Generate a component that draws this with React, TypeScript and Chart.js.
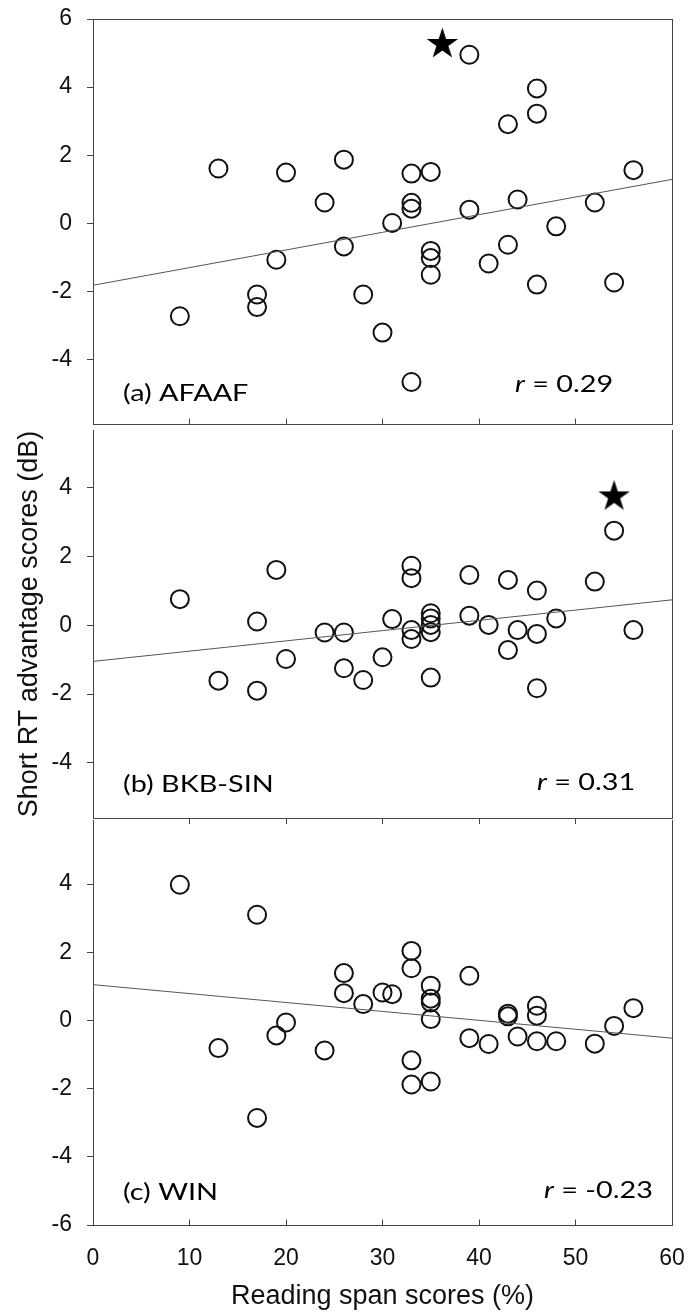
import React, { useEffect, useRef } from 'react';
import { Chart, registerables } from 'chart.js';

Chart.register(...registerables);

// Shared horizontal axis: reading span scores (%)
const X_TICKS = [0, 10, 20, 30, 40, 50, 60];
const INNER_X_TICKS = [10, 20, 30, 40, 50];
const FIT_X = [0, 60];

// (a) AFAAF
const afaafX = [9, 13, 17, 17, 19, 20, 24, 26, 26, 28, 30, 31, 33, 33, 33, 33, 35, 35, 35, 35, 39, 39, 41, 43, 43, 44, 46, 46, 46, 48, 52, 54, 56];
const afaafY = [-2.73, 1.61, -2.09, -2.46, -1.07, 1.49, 0.61, 1.87, -0.68, -2.09, -3.21, 0.01, 1.46, 0.6, 0.43, -4.66, 1.51, -0.81, -1.02, -1.51, 4.95, 0.4, -1.18, 2.91, -0.63, 0.7, 3.96, 3.22, -1.8, -0.09, 0.61, -1.74, 1.56];
const afaafFit = [-1.82, 1.29];
const afaafStar = [36.2, 5.31];
const afaafTicks = [6, 4, 2, 0, -2, -4];

// (b) BKB-SIN
const bkbX = [9, 13, 17, 17, 19, 20, 24, 26, 26, 28, 30, 31, 33, 33, 33, 33, 35, 35, 35, 35, 35, 39, 39, 41, 43, 43, 44, 46, 46, 46, 48, 52, 54, 56];
const bkbY = [0.76, -1.61, 0.11, -1.9, 1.61, -0.98, -0.21, -0.21, -1.25, -1.59, -0.93, 0.18, 1.73, 1.37, -0.14, -0.4, 0.35, 0.2, 0.01, -0.2, -1.52, 1.46, 0.28, 0.01, 1.32, -0.72, -0.14, 1.01, -0.25, -1.83, 0.2, 1.27, 2.75, -0.14];
const bkbFit = [-1.05, 0.74];
const bkbStar = [54.0, 3.79];
const bkbTicks = [4, 2, 0, -2, -4];

// (c) WIN
const winX = [9, 13, 17, 17, 19, 20, 24, 26, 26, 28, 30, 31, 33, 33, 33, 33, 35, 35, 35, 35, 35, 39, 39, 41, 43, 43, 44, 46, 46, 46, 48, 52, 54, 56];
const winY = [3.98, -0.81, 3.1, -2.86, -0.44, -0.06, -0.88, 1.39, 0.8, 0.48, 0.82, 0.77, 2.04, 1.53, -1.17, -1.88, 1.02, 0.64, 0.53, 0.04, -1.79, 1.31, -0.52, -0.69, 0.2, 0.12, -0.47, 0.43, 0.14, -0.61, -0.61, -0.68, -0.16, 0.36];
const winFit = [1.05, -0.52];
const winTicks = [4, 2, 0, -2, -4, -6];

const SANS = 'Arial, "Liberation Sans", sans-serif';
const LABEL_FONT = 'Lato, "Open Sans", sans-serif';
const INK = '#111';
const AXIS = '#444';
const FIT_LINE = '#555';
const STRETCH = 1.2;

type Spec = {
  xs: number[];
  ys: number[];
  fit: number[];
  star?: number[];
  yTicks: number[];
  yMin: number;
  yMax: number;
  top: number;
  height: number;
  padTop: number;
  padBottom: number;
  label: string;
  r: string;
  rLeft: number;
  rDrop: number;
  labelDrop: number;
  frameTop: boolean;
  tickDir: number;
  showX: boolean;
  yTitle: boolean;
};

const panels: Spec[] = [
  {
    xs: afaafX, ys: afaafY, fit: afaafFit, star: afaafStar, yTicks: afaafTicks,
    yMin: -5.894, yMax: 6, top: 0, height: 430, padTop: 19, padBottom: 6,
    label: '(a) AFAAF', r: '0.29', rLeft: 515, rDrop: 32, labelDrop: 23,
    frameTop: true, tickDir: -1, showX: false, yTitle: false,
  },
  {
    xs: bkbX, ys: bkbY, fit: bkbFit, star: bkbStar, yTicks: bkbTicks,
    yMin: -5.602, yMax: 5.677, top: 426, height: 398, padTop: 4, padBottom: 6,
    label: '(b) BKB-SIN', r: '0.31', rLeft: 537, rDrop: 28, labelDrop: 26,
    frameTop: false, tickDir: 1, showX: false, yTitle: true,
  },
  {
    xs: winX, ys: winY, fit: winFit, yTicks: winTicks,
    yMin: -6, yMax: 5.88, top: 818, height: 496, padTop: 2, padBottom: 0,
    label: '(c) WIN', r: '-0.23', rLeft: 544, rDrop: 27, labelDrop: 25,
    frameTop: false, tickDir: -1, showX: true, yTitle: false,
  },
];

function makeStar(R: number): HTMLCanvasElement {
  const size = Math.ceil(2 * R + 4);
  const c = document.createElement('canvas');
  c.width = size;
  c.height = size;
  const g = c.getContext('2d')!;
  const cx = size / 2;
  const cy = size / 2 + 0.0955 * R;
  g.beginPath();
  for (let i = 0; i < 10; i++) {
    const rad = i % 2 === 0 ? R : R * 0.382;
    const a = -Math.PI / 2 + (i * Math.PI) / 5;
    g.lineTo(cx + rad * Math.cos(a), cy + rad * Math.sin(a));
  }
  g.closePath();
  g.fillStyle = '#000';
  g.fill();
  return c;
}

const crisp = (p: number) => Math.round(p - 0.5) + 0.5;

function drawStretched(ctx: CanvasRenderingContext2D, text: string, x: number, y: number) {
  ctx.save();
  ctx.translate(x, y);
  ctx.scale(STRETCH, 1);
  ctx.fillText(text, 0, 0);
  ctx.restore();
  return ctx.measureText(text).width * STRETCH;
}

function buildConfig(spec: Spec): any {
  const decor = {
    id: 'panelDecor',
    afterDraw(chart: any) {
      const { ctx, chartArea: ca } = chart;
      const xs = chart.scales.x;
      const L = crisp(ca.left);
      const R = crisp(ca.right);
      const T = ca.top;
      const B = crisp(ca.bottom);
      ctx.save();
      ctx.strokeStyle = AXIS;
      ctx.lineWidth = 1;
      ctx.beginPath();
      ctx.moveTo(R, T);
      ctx.lineTo(R, B);
      if (!spec.showX) {
        ctx.moveTo(L - 0.5, B);
        ctx.lineTo(R + 0.5, B);
      }
      if (spec.frameTop) {
        const t = crisp(T);
        ctx.moveTo(L - 0.5, t);
        ctx.lineTo(R + 0.5, t);
      }
      INNER_X_TICKS.forEach((v) => {
        const px = crisp(xs.getPixelForValue(v));
        ctx.moveTo(px, B);
        ctx.lineTo(px, B + spec.tickDir * 6);
      });
      ctx.stroke();

      ctx.fillStyle = '#000';
      ctx.textBaseline = 'alphabetic';
      ctx.textAlign = 'left';
      ctx.font = `24px ${LABEL_FONT}`;
      drawStretched(ctx, spec.label, ca.left + 30, ca.bottom - spec.labelDrop);

      const ry = ca.bottom - spec.rDrop;
      ctx.font = `italic 24px ${LABEL_FONT}`;
      const w = drawStretched(ctx, 'r', spec.rLeft, ry);
      ctx.font = `24px ${LABEL_FONT}`;
      drawStretched(ctx, ` = ${spec.r}`, spec.rLeft + w, ry);
      ctx.restore();
    },
  };

  const datasets: any[] = [
    {
      label: 'fit',
      data: FIT_X.map((x, i) => ({ x, y: spec.fit[i] })),
      showLine: true,
      borderColor: FIT_LINE,
      borderWidth: 1,
      pointRadius: 0,
      fill: false,
    },
    {
      label: 'scores',
      data: spec.xs.map((x, i) => ({ x, y: spec.ys[i] })),
      showLine: false,
      pointStyle: 'circle',
      pointRadius: 9,
      pointBorderWidth: 2,
      pointBorderColor: INK,
      pointBackgroundColor: 'rgba(0,0,0,0)',
      borderColor: INK,
    },
  ];
  if (spec.star) {
    datasets.push({
      label: 'outlier',
      data: [{ x: spec.star[0], y: spec.star[1] }],
      showLine: false,
      pointStyle: makeStar(16.5),
      pointRadius: 17,
    });
  }

  return {
    type: 'scatter',
    data: { datasets },
    plugins: [decor],
    options: {
      responsive: false,
      animation: false,
      devicePixelRatio: 1,
      events: [],
      layout: {
        autoPadding: false,
        padding: { left: 0, right: 17, top: spec.padTop, bottom: spec.padBottom },
      },
      plugins: {
        legend: { display: false },
        tooltip: { enabled: false },
      },
      scales: {
        x: {
          type: 'linear',
          min: 0,
          max: 60,
          display: spec.showX,
          afterBuildTicks: (s: any) => {
            s.ticks = X_TICKS.map((v) => ({ value: v }));
          },
          afterFit: (s: any) => {
            s.height = spec.showX ? 89 : 0;
            s.paddingLeft = 0;
            s.paddingRight = 0;
          },
          grid: { display: false },
          border: { display: true, color: AXIS, width: 1 },
          ticks: { font: { family: SANS, size: 23 }, color: INK, padding: 12, maxRotation: 0, autoSkip: false },
          title: {
            display: true,
            text: 'Reading span scores (%)',
            font: { family: SANS, size: 27 },
            color: INK,
            padding: { top: 0, bottom: 1 },
          },
        },
        y: {
          type: 'linear',
          min: spec.yMin,
          max: spec.yMax,
          afterBuildTicks: (s: any) => {
            s.ticks = spec.yTicks.map((v) => ({ value: v }));
          },
          afterFit: (s: any) => {
            s.width = 93;
            s.paddingTop = 0;
            s.paddingBottom = 0;
          },
          grid: { display: true, drawOnChartArea: false, drawTicks: true, tickLength: 6, color: AXIS },
          border: { display: true, color: AXIS, width: 1 },
          ticks: { font: { family: SANS, size: 23 }, color: INK, padding: 15 },
          title: {
            display: spec.yTitle,
            text: 'Short RT advantage scores (dB)',
            font: { family: SANS, size: 27 },
            color: INK,
            padding: { top: 13, bottom: 0 },
          },
        },
      },
    },
  };
}

function Panel({ spec }: { spec: Spec }) {
  const ref = useRef<HTMLCanvasElement | null>(null);
  useEffect(() => {
    if (!ref.current) return;
    const chart = new Chart(ref.current, buildConfig(spec));
    return () => chart.destroy();
  }, [spec]);
  return (
    <canvas
      ref={ref}
      width={689}
      height={spec.height}
      style={{ position: 'absolute', left: 0, top: spec.top, width: 689, height: spec.height }}
    />
  );
}

export default function App() {
  return (
    <div style={{ position: 'absolute', left: 0, top: 0, width: 689, height: 1314, background: '#fff', overflow: 'hidden' }}>
      {panels.map((p, i) => (
        <Panel key={i} spec={p} />
      ))}
    </div>
  );
}
